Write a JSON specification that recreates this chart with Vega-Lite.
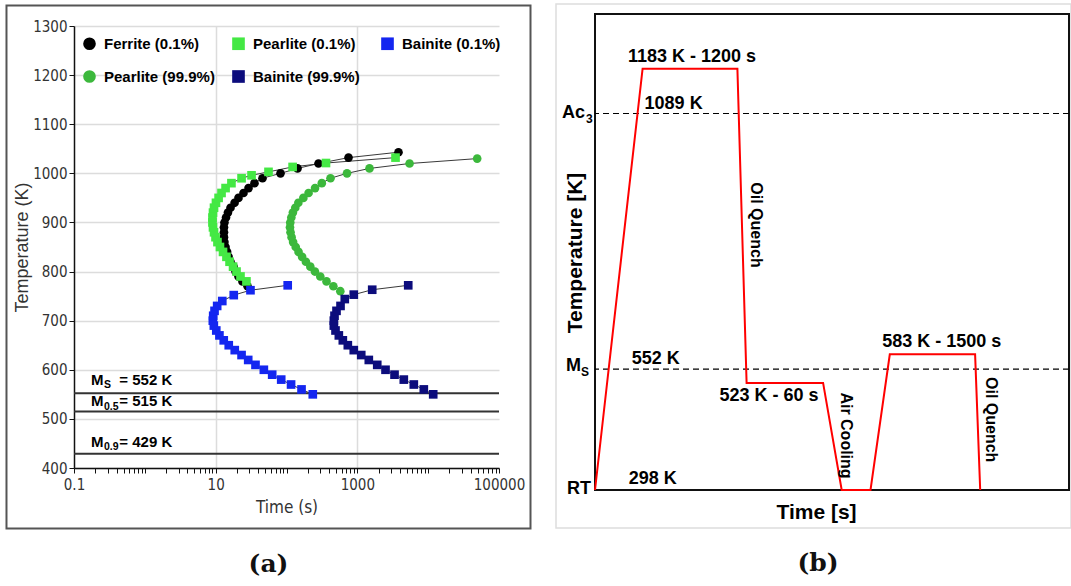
{
  "$schema": "https://vega.github.io/schema/vega-lite/v6.json",
  "background": "white",
  "padding": {"left": 5, "top": 3, "right": 0, "bottom": 0},
  "spacing": 23,
  "resolve": {"legend": {"color": "independent", "shape": "independent"}},
  "datasets": {
    "ttt": [
      {"series": "Ferrite (0.1%)", "time": 28.2, "temp": 770},
      {"series": "Ferrite (0.1%)", "time": 23.9, "temp": 780},
      {"series": "Ferrite (0.1%)", "time": 21.0, "temp": 790},
      {"series": "Ferrite (0.1%)", "time": 19.1, "temp": 800},
      {"series": "Ferrite (0.1%)", "time": 17.9, "temp": 810},
      {"series": "Ferrite (0.1%)", "time": 16.2, "temp": 820},
      {"series": "Ferrite (0.1%)", "time": 15.2, "temp": 830},
      {"series": "Ferrite (0.1%)", "time": 14.5, "temp": 840},
      {"series": "Ferrite (0.1%)", "time": 13.8, "temp": 850},
      {"series": "Ferrite (0.1%)", "time": 13.3, "temp": 860},
      {"series": "Ferrite (0.1%)", "time": 13.1, "temp": 870},
      {"series": "Ferrite (0.1%)", "time": 13.1, "temp": 880},
      {"series": "Ferrite (0.1%)", "time": 13.1, "temp": 890},
      {"series": "Ferrite (0.1%)", "time": 13.3, "temp": 900},
      {"series": "Ferrite (0.1%)", "time": 14.0, "temp": 910},
      {"series": "Ferrite (0.1%)", "time": 14.9, "temp": 920},
      {"series": "Ferrite (0.1%)", "time": 16.2, "temp": 930},
      {"series": "Ferrite (0.1%)", "time": 18.5, "temp": 940},
      {"series": "Ferrite (0.1%)", "time": 21.0, "temp": 950},
      {"series": "Ferrite (0.1%)", "time": 24.7, "temp": 960},
      {"series": "Ferrite (0.1%)", "time": 29.1, "temp": 970},
      {"series": "Ferrite (0.1%)", "time": 35.3, "temp": 980},
      {"series": "Ferrite (0.1%)", "time": 45.8, "temp": 990},
      {"series": "Ferrite (0.1%)", "time": 82.3, "temp": 1000},
      {"series": "Ferrite (0.1%)", "time": 143, "temp": 1010},
      {"series": "Ferrite (0.1%)", "time": 283, "temp": 1020},
      {"series": "Ferrite (0.1%)", "time": 751, "temp": 1032},
      {"series": "Ferrite (0.1%)", "time": 3810, "temp": 1043},
      {"series": "Pearlite (99.9%)", "time": 575, "temp": 760},
      {"series": "Pearlite (99.9%)", "time": 459, "temp": 770},
      {"series": "Pearlite (99.9%)", "time": 367, "temp": 780},
      {"series": "Pearlite (99.9%)", "time": 300, "temp": 790},
      {"series": "Pearlite (99.9%)", "time": 252, "temp": 800},
      {"series": "Pearlite (99.9%)", "time": 217, "temp": 810},
      {"series": "Pearlite (99.9%)", "time": 188, "temp": 820},
      {"series": "Pearlite (99.9%)", "time": 166, "temp": 830},
      {"series": "Pearlite (99.9%)", "time": 148, "temp": 840},
      {"series": "Pearlite (99.9%)", "time": 135, "temp": 850},
      {"series": "Pearlite (99.9%)", "time": 124, "temp": 860},
      {"series": "Pearlite (99.9%)", "time": 118, "temp": 870},
      {"series": "Pearlite (99.9%)", "time": 114, "temp": 880},
      {"series": "Pearlite (99.9%)", "time": 112, "temp": 890},
      {"series": "Pearlite (99.9%)", "time": 113, "temp": 900},
      {"series": "Pearlite (99.9%)", "time": 117, "temp": 910},
      {"series": "Pearlite (99.9%)", "time": 123, "temp": 920},
      {"series": "Pearlite (99.9%)", "time": 133, "temp": 930},
      {"series": "Pearlite (99.9%)", "time": 147, "temp": 940},
      {"series": "Pearlite (99.9%)", "time": 173, "temp": 950},
      {"series": "Pearlite (99.9%)", "time": 205, "temp": 960},
      {"series": "Pearlite (99.9%)", "time": 253, "temp": 970},
      {"series": "Pearlite (99.9%)", "time": 315, "temp": 980},
      {"series": "Pearlite (99.9%)", "time": 418, "temp": 990},
      {"series": "Pearlite (99.9%)", "time": 715, "temp": 1000},
      {"series": "Pearlite (99.9%)", "time": 1486, "temp": 1010},
      {"series": "Pearlite (99.9%)", "time": 5460, "temp": 1020},
      {"series": "Pearlite (99.9%)", "time": 49200, "temp": 1030},
      {"series": "Pearlite (0.1%)", "time": 27.2, "temp": 780},
      {"series": "Pearlite (0.1%)", "time": 22.4, "temp": 790},
      {"series": "Pearlite (0.1%)", "time": 19.7, "temp": 800},
      {"series": "Pearlite (0.1%)", "time": 17.6, "temp": 810},
      {"series": "Pearlite (0.1%)", "time": 15.7, "temp": 820},
      {"series": "Pearlite (0.1%)", "time": 14.2, "temp": 830},
      {"series": "Pearlite (0.1%)", "time": 12.7, "temp": 840},
      {"series": "Pearlite (0.1%)", "time": 11.5, "temp": 850},
      {"series": "Pearlite (0.1%)", "time": 10.6, "temp": 860},
      {"series": "Pearlite (0.1%)", "time": 9.95, "temp": 870},
      {"series": "Pearlite (0.1%)", "time": 9.48, "temp": 880},
      {"series": "Pearlite (0.1%)", "time": 9.17, "temp": 890},
      {"series": "Pearlite (0.1%)", "time": 9.02, "temp": 900},
      {"series": "Pearlite (0.1%)", "time": 9.02, "temp": 910},
      {"series": "Pearlite (0.1%)", "time": 9.17, "temp": 920},
      {"series": "Pearlite (0.1%)", "time": 9.48, "temp": 930},
      {"series": "Pearlite (0.1%)", "time": 10.1, "temp": 940},
      {"series": "Pearlite (0.1%)", "time": 11.0, "temp": 950},
      {"series": "Pearlite (0.1%)", "time": 12.1, "temp": 960},
      {"series": "Pearlite (0.1%)", "time": 13.8, "temp": 970},
      {"series": "Pearlite (0.1%)", "time": 16.7, "temp": 980},
      {"series": "Pearlite (0.1%)", "time": 23.2, "temp": 990},
      {"series": "Pearlite (0.1%)", "time": 32.1, "temp": 996},
      {"series": "Pearlite (0.1%)", "time": 55.7, "temp": 1003},
      {"series": "Pearlite (0.1%)", "time": 122, "temp": 1013},
      {"series": "Pearlite (0.1%)", "time": 361, "temp": 1021},
      {"series": "Pearlite (0.1%)", "time": 3460, "temp": 1032},
      {"series": "Bainite (99.9%)", "time": 11780, "temp": 550},
      {"series": "Bainite (99.9%)", "time": 8680, "temp": 560},
      {"series": "Bainite (99.9%)", "time": 6270, "temp": 570},
      {"series": "Bainite (99.9%)", "time": 4530, "temp": 580},
      {"series": "Bainite (99.9%)", "time": 3350, "temp": 590},
      {"series": "Bainite (99.9%)", "time": 2500, "temp": 600},
      {"series": "Bainite (99.9%)", "time": 1910, "temp": 610},
      {"series": "Bainite (99.9%)", "time": 1452, "temp": 620},
      {"series": "Bainite (99.9%)", "time": 1135, "temp": 630},
      {"series": "Bainite (99.9%)", "time": 891, "temp": 640},
      {"series": "Bainite (99.9%)", "time": 734, "temp": 650},
      {"series": "Bainite (99.9%)", "time": 624, "temp": 660},
      {"series": "Bainite (99.9%)", "time": 548, "temp": 670},
      {"series": "Bainite (99.9%)", "time": 492, "temp": 680},
      {"series": "Bainite (99.9%)", "time": 466, "temp": 690},
      {"series": "Bainite (99.9%)", "time": 466, "temp": 700},
      {"series": "Bainite (99.9%)", "time": 476, "temp": 710},
      {"series": "Bainite (99.9%)", "time": 508, "temp": 720},
      {"series": "Bainite (99.9%)", "time": 579, "temp": 730},
      {"series": "Bainite (99.9%)", "time": 665, "temp": 744},
      {"series": "Bainite (99.9%)", "time": 891, "temp": 753},
      {"series": "Bainite (99.9%)", "time": 1622, "temp": 763},
      {"series": "Bainite (99.9%)", "time": 5230, "temp": 772},
      {"series": "Bainite (0.1%)", "time": 235, "temp": 550},
      {"series": "Bainite (0.1%)", "time": 163, "temp": 560},
      {"series": "Bainite (0.1%)", "time": 116, "temp": 570},
      {"series": "Bainite (0.1%)", "time": 84.2, "temp": 580},
      {"series": "Bainite (0.1%)", "time": 62.8, "temp": 590},
      {"series": "Bainite (0.1%)", "time": 47.9, "temp": 600},
      {"series": "Bainite (0.1%)", "time": 36.5, "temp": 610},
      {"series": "Bainite (0.1%)", "time": 28.8, "temp": 620},
      {"series": "Bainite (0.1%)", "time": 23.2, "temp": 630},
      {"series": "Bainite (0.1%)", "time": 18.6, "temp": 640},
      {"series": "Bainite (0.1%)", "time": 15.3, "temp": 650},
      {"series": "Bainite (0.1%)", "time": 13.0, "temp": 660},
      {"series": "Bainite (0.1%)", "time": 11.3, "temp": 670},
      {"series": "Bainite (0.1%)", "time": 10.2, "temp": 680},
      {"series": "Bainite (0.1%)", "time": 9.42, "temp": 690},
      {"series": "Bainite (0.1%)", "time": 9.12, "temp": 700},
      {"series": "Bainite (0.1%)", "time": 9.23, "temp": 710},
      {"series": "Bainite (0.1%)", "time": 9.64, "temp": 720},
      {"series": "Bainite (0.1%)", "time": 10.5, "temp": 730},
      {"series": "Bainite (0.1%)", "time": 12.4, "temp": 740},
      {"series": "Bainite (0.1%)", "time": 18.0, "temp": 752},
      {"series": "Bainite (0.1%)", "time": 31.0, "temp": 762},
      {"series": "Bainite (0.1%)", "time": 104, "temp": 772}
    ],
    "profile": [
      {"time": 0, "temp": 298},
      {"time": 47.6, "temp": 1183},
      {"time": 142.4, "temp": 1183},
      {"time": 151.6, "temp": 523},
      {"time": 228.1, "temp": 523},
      {"time": 246.7, "temp": 298},
      {"time": 275.5, "temp": 298},
      {"time": 294.8, "temp": 583},
      {"time": 380.1, "temp": 583},
      {"time": 385.2, "temp": 298}
    ]
  },
  "hconcat": [
    {
      "width": 425,
      "height": 442,
      "view": {"stroke": null},
      "layer": [
        {
          "data": {"values": [{"time": 0.01114, "time2": 278400, "temp": 1341.7, "temp2": 276.8}]},
          "mark": {"type": "rect", "fillOpacity": 0, "stroke": "#555555", "strokeWidth": 2},
          "encoding": {
            "x": {"field": "time", "type": "quantitative", "scale": {"type": "log", "domain": [0.1, 100000], "nice": false}},
            "x2": {"field": "time2"},
            "y": {"field": "temp", "type": "quantitative", "scale": {"domain": [400, 1300], "nice": false, "zero": false}},
            "y2": {"field": "temp2"}
          }
        },
        {
          "data": {"values": [{"temp": 552}, {"temp": 515}, {"temp": 429}]},
          "mark": {"type": "rule", "color": "#333333", "strokeWidth": 2},
          "encoding": {
            "y": {"field": "temp", "type": "quantitative", "scale": {"domain": [400, 1300], "nice": false, "zero": false}}
          }
        },
        {
          "data": {"name": "ttt"},
          "mark": {"type": "line", "color": "#3a3a3a", "strokeWidth": 1},
          "encoding": {
            "x": {"field": "time", "type": "quantitative", "scale": {"type": "log", "domain": [0.1, 100000], "nice": false}},
            "y": {"field": "temp", "type": "quantitative", "scale": {"domain": [400, 1300], "nice": false, "zero": false}},
            "detail": {"field": "series"},
            "order": {"field": "temp", "type": "quantitative"}
          }
        },
        {
          "data": {"name": "ttt"},
          "mark": {"type": "point", "filled": true, "size": 75, "opacity": 1},
          "encoding": {
            "x": {
              "field": "time", "type": "quantitative",
              "scale": {"type": "log", "domain": [0.1, 100000], "nice": false},
              "axis": {
                "title": "Time (s)",
                "values": [0.1,0.2,0.3,0.4,0.5,0.6,0.7,0.8,0.9,1,2,3,4,5,6,7,8,9,10,20,30,40,50,60,70,80,90,100,200,300,400,500,600,700,800,900,1000,2000,3000,4000,5000,6000,7000,8000,9000,10000,20000,30000,40000,50000,60000,70000,80000,90000,100000],
                "format": "~g",
                "labelExpr": "(datum.value === 0.1 || datum.value === 10 || datum.value === 1000 || datum.value === 100000) ? datum.label : ''",
                "labelOverlap": false,
                "labelFlush": false,
                "labelFont": "Liberation Sans Narrow, DejaVu Sans Condensed, sans-serif",
                "labelFontSize": 15,
                "labelColor": "#333333",
                "labelPadding": 4,
                "tickColor": "#111111",
                "tickSize": 5,
                "domainColor": "#111111",
                "domainWidth": 1.5,
                "grid": true,
                "gridColor": "#dcdcdc",
                "gridWidth": 1.5,
                "gridOpacity": {"condition": {"test": "datum.value === 10 || datum.value === 1000", "value": 1}, "value": 0},
                "titleFont": "Liberation Sans Narrow, DejaVu Sans Condensed, sans-serif",
                "titleFontSize": 17,
                "titleFontWeight": "normal",
                "titleColor": "#333333",
                "titlePadding": 7
              }
            },
            "y": {
              "field": "temp", "type": "quantitative",
              "scale": {"domain": [400, 1300], "nice": false, "zero": false},
              "axis": {
                "title": "Temperature (K)",
                "values": [400,450,500,550,600,650,700,750,800,850,900,950,1000,1050,1100,1150,1200,1250,1300],
                "format": "d",
                "labelExpr": "datum.value % 100 === 0 ? datum.label : ''",
                "labelOverlap": false,
                "labelFlush": false,
                "labelFont": "Liberation Sans Narrow, DejaVu Sans Condensed, sans-serif",
                "labelFontSize": 15,
                "labelColor": "#333333",
                "labelPadding": 2,
                "tickColor": "#111111",
                "tickSize": 5,
                "domainColor": "#111111",
                "domainWidth": 1.5,
                "grid": true,
                "gridColor": "#dcdcdc",
                "gridWidth": 1.5,
                "gridOpacity": {"condition": {"test": "datum.value % 100 === 0", "value": 1}, "value": 0},
                "titleFont": "Liberation Sans, Arial, sans-serif",
                "titleFontSize": 18,
                "titleFontWeight": "normal",
                "titleColor": "#333333",
                "titlePadding": 1
              }
            },
            "color": {
              "field": "series", "type": "nominal",
              "scale": {
                "domain": ["Ferrite (0.1%)", "Pearlite (99.9%)", "Pearlite (0.1%)", "Bainite (99.9%)", "Bainite (0.1%)"],
                "range": ["#000000", "#3cb83c", "#44e844", "#0c0c7c", "#1426f0"]
              },
              "legend": {
                "title": null,
                "orient": "none",
                "legendX": 8,
                "legendY": 10,
                "columns": 3,
                "gridAlign": "all",
                "columnPadding": 16,
                "rowPadding": 17,
                "padding": 0,
                "symbolSize": 160,
                "symbolStrokeWidth": 0,
                "symbolOpacity": 1,
                "labelFont": "Liberation Sans, Arial, sans-serif",
                "labelFontSize": 15,
                "labelFontWeight": "bold",
                "labelColor": "#000000",
                "labelOffset": 7,
                "labelLimit": 300
              }
            },
            "shape": {
              "field": "series", "type": "nominal",
              "scale": {
                "domain": ["Ferrite (0.1%)", "Pearlite (99.9%)", "Pearlite (0.1%)", "Bainite (99.9%)", "Bainite (0.1%)"],
                "range": ["circle", "circle", "square", "square", "square"]
              },
              "legend": {
                "title": null,
                "orient": "none",
                "legendX": 8,
                "legendY": 10,
                "columns": 3,
                "gridAlign": "all",
                "columnPadding": 16,
                "rowPadding": 17,
                "padding": 0,
                "symbolSize": 160,
                "symbolStrokeWidth": 0,
                "symbolOpacity": 1,
                "labelFont": "Liberation Sans, Arial, sans-serif",
                "labelFontSize": 15,
                "labelFontWeight": "bold",
                "labelColor": "#000000",
                "labelOffset": 7,
                "labelLimit": 300
              }
            }
          }
        },
        {
          "data": {"values": [
            {"label": "M", "time": 0.1738, "temp": 578.2},
            {"label": "M", "time": 0.1738, "temp": 536.4},
            {"label": "M", "time": 0.1738, "temp": 452.9},
            {"label": "= 552 K", "time": 0.436, "temp": 578.2},
            {"label": "= 515 K", "time": 0.436, "temp": 536.4},
            {"label": "= 429 K", "time": 0.436, "temp": 452.9}
          ]},
          "mark": {"type": "text", "align": "left", "baseline": "middle", "font": "Liberation Sans, Arial, sans-serif", "fontSize": 15, "fontWeight": "bold", "color": "#000000"},
          "encoding": {
            "x": {"field": "time", "type": "quantitative", "scale": {"type": "log", "domain": [0.1, 100000], "nice": false}},
            "y": {"field": "temp", "type": "quantitative", "scale": {"domain": [400, 1300], "nice": false, "zero": false}},
            "text": {"field": "label"}
          }
        },
        {
          "data": {"values": [
            {"label": "S", "time": 0.2643, "temp": 569.4},
            {"label": "0.5", "time": 0.2643, "temp": 525.2},
            {"label": "0.9", "time": 0.2643, "temp": 442.3}
          ]},
          "mark": {"type": "text", "align": "left", "baseline": "middle", "font": "Liberation Sans, Arial, sans-serif", "fontSize": 10.5, "fontWeight": "bold", "color": "#000000"},
          "encoding": {
            "x": {"field": "time", "type": "quantitative", "scale": {"type": "log", "domain": [0.1, 100000], "nice": false}},
            "y": {"field": "temp", "type": "quantitative", "scale": {"domain": [400, 1300], "nice": false, "zero": false}},
            "text": {"field": "label"}
          }
        },
        {
          "data": {"values": [{"label": "(a)", "time": 55.7, "temp": 205}]},
          "mark": {"type": "text", "align": "center", "baseline": "middle", "font": "DejaVu Serif, serif", "fontSize": 25, "fontWeight": "bold", "color": "#111111"},
          "encoding": {
            "x": {"field": "time", "type": "quantitative", "scale": {"type": "log", "domain": [0.1, 100000], "nice": false}},
            "y": {"field": "temp", "type": "quantitative", "scale": {"domain": [400, 1300], "nice": false, "zero": false}},
            "text": {"field": "label"}
          }
        }
      ]
    },
    {
      "width": 474,
      "height": 464,
      "view": {"stroke": null},
      "layer": [
        {
          "data": {"values": [{"time": -39, "time2": 476, "temp": 1319, "temp2": 218.2}]},
          "mark": {"type": "rect", "fillOpacity": 0, "stroke": "#dddddd", "strokeWidth": 1.5},
          "encoding": {
            "x": {
              "field": "time", "type": "quantitative",
              "scale": {"domain": [0, 474], "nice": false, "zero": false},
              "axis": {
                "title": "Time [s]", "labels": false, "ticks": false, "domain": false, "grid": false,
                "titleFont": "Liberation Sans, Arial, sans-serif", "titleFontSize": 21, "titleFontWeight": "bold", "titleColor": "#000000",
                "titleX": 221, "titleY": 22, "titleAlign": "center", "titleBaseline": "middle"
              }
            },
            "x2": {"field": "time2"},
            "y": {
              "field": "temp", "type": "quantitative",
              "scale": {"domain": [298, 1272.8], "nice": false, "zero": false},
              "axis": {
                "title": "Temperature [K]", "labels": false, "ticks": false, "domain": false, "grid": false,
                "titleFont": "Liberation Sans, Arial, sans-serif", "titleFontSize": 21, "titleFontWeight": "bold", "titleColor": "#000000",
                "titleX": -19.5, "titleY": 226.5, "titleAngle": 270, "titleAlign": "center", "titleBaseline": "middle"
              }
            },
            "y2": {"field": "temp2"}
          }
        },
        {
          "data": {"values": [{"time": 0, "time2": 474, "temp": 298, "temp2": 1298}]},
          "mark": {"type": "rect", "fillOpacity": 0, "stroke": "#111111", "strokeWidth": 2},
          "encoding": {
            "x": {"field": "time", "type": "quantitative", "scale": {"domain": [0, 474], "nice": false, "zero": false}},
            "x2": {"field": "time2"},
            "y": {"field": "temp", "type": "quantitative", "scale": {"domain": [298, 1272.8], "nice": false, "zero": false}},
            "y2": {"field": "temp2"}
          }
        },
        {
          "data": {"values": [{"temp": 1089}, {"temp": 552}]},
          "mark": {"type": "rule", "color": "#000000", "strokeWidth": 1.2, "strokeDash": [6, 4]},
          "encoding": {
            "y": {"field": "temp", "type": "quantitative", "scale": {"domain": [298, 1272.8], "nice": false, "zero": false}}
          }
        },
        {
          "data": {"name": "profile"},
          "mark": {"type": "line", "color": "#ff0000", "strokeWidth": 2},
          "encoding": {
            "x": {"field": "time", "type": "quantitative", "scale": {"domain": [0, 474], "nice": false, "zero": false}},
            "y": {"field": "temp", "type": "quantitative", "scale": {"domain": [298, 1272.8], "nice": false, "zero": false}}
          }
        },
        {
          "data": {"values": [
            {"label": "1183 K - 1200 s", "time": 97, "temp": 1208},
            {"label": "1089 K", "time": 78.6, "temp": 1109.6},
            {"label": "552 K", "time": 60.8, "temp": 573.2},
            {"label": "523 K - 60 s", "time": 174, "temp": 495.5},
            {"label": "583 K - 1500 s", "time": 346.8, "temp": 608.9},
            {"label": "298 K", "time": 57.7, "temp": 321.1}
          ]},
          "mark": {"type": "text", "align": "center", "baseline": "middle", "font": "Liberation Sans, Arial, sans-serif", "fontSize": 18, "fontWeight": "bold", "color": "#000000"},
          "encoding": {
            "x": {"field": "time", "type": "quantitative", "scale": {"domain": [0, 474], "nice": false, "zero": false}},
            "y": {"field": "temp", "type": "quantitative", "scale": {"domain": [298, 1272.8], "nice": false, "zero": false}},
            "text": {"field": "label"}
          }
        },
        {
          "data": {"values": [
            {"label": "Ac", "time": -10, "temp": 1090},
            {"label": "M", "time": -14, "temp": 557.5},
            {"label": "RT", "time": -4, "temp": 300.1}
          ]},
          "mark": {"type": "text", "align": "right", "baseline": "middle", "font": "Liberation Sans, Arial, sans-serif", "fontSize": 18, "fontWeight": "bold", "color": "#000000"},
          "encoding": {
            "x": {"field": "time", "type": "quantitative", "scale": {"domain": [0, 474], "nice": false, "zero": false}},
            "y": {"field": "temp", "type": "quantitative", "scale": {"domain": [298, 1272.8], "nice": false, "zero": false}},
            "text": {"field": "label"}
          }
        },
        {
          "data": {"values": [
            {"label": "3", "time": -9, "temp": 1077.4},
            {"label": "S", "time": -14, "temp": 545.9}
          ]},
          "mark": {"type": "text", "align": "left", "baseline": "middle", "font": "Liberation Sans, Arial, sans-serif", "fontSize": 12, "fontWeight": "bold", "color": "#000000"},
          "encoding": {
            "x": {"field": "time", "type": "quantitative", "scale": {"domain": [0, 474], "nice": false, "zero": false}},
            "y": {"field": "temp", "type": "quantitative", "scale": {"domain": [298, 1272.8], "nice": false, "zero": false}},
            "text": {"field": "label"}
          }
        },
        {
          "data": {"values": [
            {"label": "Oil Quench", "time": 161, "temp": 854.7},
            {"label": "Air Cooling", "time": 251, "temp": 412.5},
            {"label": "Oil Quench", "time": 396, "temp": 445.7}
          ]},
          "mark": {"type": "text", "align": "center", "baseline": "middle", "angle": 90, "font": "Liberation Sans, Arial, sans-serif", "fontSize": 16, "fontWeight": "bold", "color": "#000000"},
          "encoding": {
            "x": {"field": "time", "type": "quantitative", "scale": {"domain": [0, 474], "nice": false, "zero": false}},
            "y": {"field": "temp", "type": "quantitative", "scale": {"domain": [298, 1272.8], "nice": false, "zero": false}},
            "text": {"field": "label"}
          }
        },
        {
          "data": {"values": [{"label": "(b)", "time": 223, "temp": 144.6}]},
          "mark": {"type": "text", "align": "center", "baseline": "middle", "font": "DejaVu Serif, serif", "fontSize": 25, "fontWeight": "bold", "color": "#111111"},
          "encoding": {
            "x": {"field": "time", "type": "quantitative", "scale": {"domain": [0, 474], "nice": false, "zero": false}},
            "y": {"field": "temp", "type": "quantitative", "scale": {"domain": [298, 1272.8], "nice": false, "zero": false}},
            "text": {"field": "label"}
          }
        }
      ]
    }
  ]
}
